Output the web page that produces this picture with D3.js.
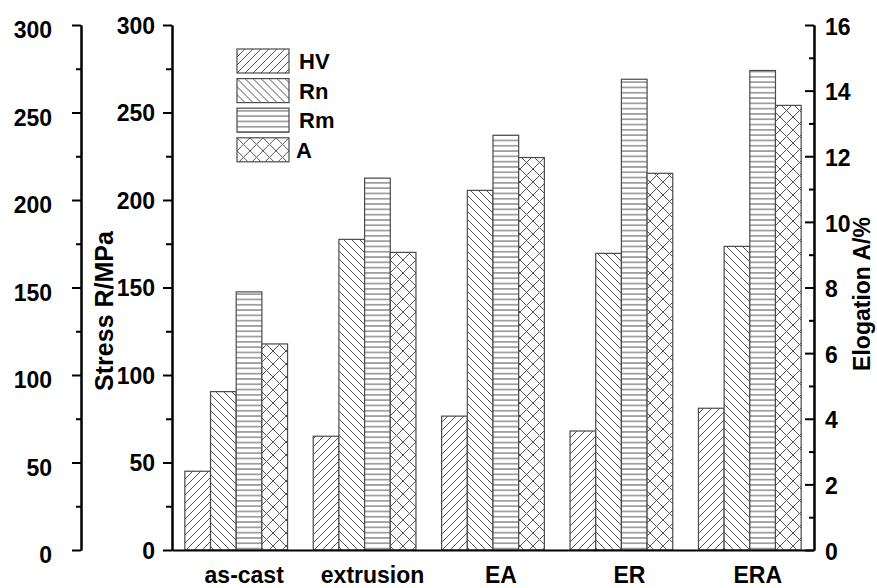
<!DOCTYPE html>
<html>
<head>
<meta charset="utf-8">
<script src="https://cdn.jsdelivr.net/npm/d3@7"></script>
<style>
  body { margin: 0; background: #fff; }
  svg text { font-family: "Liberation Sans", Arial, sans-serif; font-weight: bold; fill: #000; }
</style>
</head>
<body>
<svg id="chart" width="877" height="588"></svg>
<script>
// values
var categories = ["as-cast", "extrusion", "EA", "ER", "ERA"];
var series = ["HV", "Rn", "Rm", "A"];
var hv = [45, 65, 76.5, 68, 81];
var rn = [90.5, 177.5, 205.5, 169.5, 173.5];
var rm = [147.5, 212.5, 237, 269, 274];
var elong = [6.28, 9.07, 11.96, 11.48, 13.55];
var stressTicks = [0, 50, 100, 150, 200, 250, 300];
var elongTicks = [0, 2, 4, 6, 8, 10, 12, 14, 16];

var plotLeft = 172, plotRight = 814, plotTop = 25, plotBottom = 550;

var svg = d3.select("#chart");

var x = d3.scaleBand()
  .domain(categories)
  .range([plotLeft, plotRight])
  .paddingInner(0.2)
  .paddingOuter(0.1);

var xSub = d3.scaleBand()
  .domain(series)
  .range([0, x.bandwidth()]);

var yStress = d3.scaleLinear().domain([0, 300]).range([plotBottom, plotTop]);
var yElong = d3.scaleLinear().domain([0, 16]).range([plotBottom, plotTop]);

// hatch patterns
var defs = svg.append("defs");
var hatchColor = "#555";

var addPattern = function(id, w, h, d) {
  var p = defs.append("pattern")
    .attr("id", id)
    .attr("patternUnits", "userSpaceOnUse")
    .attr("width", w)
    .attr("height", h);
  p.append("rect").attr("width", w).attr("height", h).attr("fill", "#fff");
  p.append("path").attr("d", d)
    .attr("stroke", hatchColor)
    .attr("stroke-width", 1)
    .attr("fill", "none");
};

var s = 8;
addPattern("pHV", s, s, "M-1,1 l2,-2 M0," + s + " l" + s + ",-" + s + " M" + (s - 1) + "," + (s + 1) + " l2,-2");
addPattern("pRn", s, s, "M-1," + (s - 1) + " l2,2 M0,0 l" + s + "," + s + " M" + (s - 1) + ",-1 l2,2");
addPattern("pRm", 10, 5.3, "M0,2.65 L10,2.65");
var c = 13;
addPattern("pA", c, c,
  "M-1,1 l2,-2 M0," + c + " l" + c + ",-" + c + " M" + (c - 1) + "," + (c + 1) + " l2,-2 " +
  "M-1," + (c - 1) + " l2,2 M0,0 l" + c + "," + c + " M" + (c - 1) + ",-1 l2,2");

var fills = { HV: "url(#pHV)", Rn: "url(#pRn)", Rm: "url(#pRm)", A: "url(#pA)" };

// rows for the bars
var rows = [];
categories.forEach(function(cat, i) {
  rows.push({ cat: cat, key: "HV", y: yStress(hv[i]) });
  rows.push({ cat: cat, key: "Rn", y: yStress(rn[i]) });
  rows.push({ cat: cat, key: "Rm", y: yStress(rm[i]) });
  rows.push({ cat: cat, key: "A", y: yElong(elong[i]) });
});

svg.append("g")
  .selectAll("rect")
  .data(rows)
  .enter()
  .append("rect")
  .attr("x", function(d) { return x(d.cat) + xSub(d.key); })
  .attr("y", function(d) { return d.y; })
  .attr("width", xSub.bandwidth())
  .attr("height", function(d) { return plotBottom - d.y; })
  .attr("fill", function(d) { return fills[d.key]; })
  .attr("stroke", "#4a4a4a")
  .attr("stroke-width", 1.2);

// axes
var styleAxis = function(g) {
  g.select(".domain").attr("stroke", "#000").attr("stroke-width", 2);
  g.selectAll(".tick line").attr("stroke", "#000").attr("stroke-width", 2);
  g.selectAll(".tick text").attr("font-size", 23).attr("fill", "#000")
    .attr("font-family", "Liberation Sans, Arial, sans-serif").attr("font-weight", "bold");
};

var minorStress = d3.range(25, 300, 50);
var minorElong = d3.range(1, 16, 2);

// far left axis (HV)
var farAxis = svg.append("g").attr("transform", "translate(81,0)");
farAxis.append("g")
  .call(d3.axisLeft(yStress).tickValues(minorStress).tickSize(5).tickFormat("").tickSizeOuter(0))
  .call(styleAxis);
farAxis.append("g")
  .call(d3.axisLeft(yStress).tickValues(stressTicks).tickSize(9).tickPadding(20).tickSizeOuter(0))
  .call(styleAxis);
farAxis.selectAll(".tick text").attr("dy", "0.55em");

// inner stress axis
var innerAxis = svg.append("g").attr("transform", "translate(" + plotLeft + ",0)");
innerAxis.append("g")
  .call(d3.axisLeft(yStress).tickValues(minorStress).tickSize(6).tickFormat("").tickSizeOuter(0))
  .call(styleAxis);
innerAxis.append("g")
  .call(d3.axisLeft(yStress).tickValues(stressTicks).tickSize(9).tickPadding(8).tickSizeOuter(0))
  .call(styleAxis);
innerAxis.selectAll(".tick text").attr("dy", "0.35em");

// right elongation axis, ticks pointing inward
var rightAxis = svg.append("g").attr("transform", "translate(" + plotRight + ",0)");
rightAxis.append("g")
  .call(d3.axisRight(yElong).tickValues(minorElong).tickSize(-5).tickFormat("").tickSizeOuter(0))
  .call(styleAxis);
rightAxis.append("g")
  .call(d3.axisRight(yElong).tickValues(elongTicks).tickSize(-9).tickPadding(11).tickSizeOuter(0))
  .call(styleAxis);
rightAxis.selectAll(".tick text").attr("dy", "0.4em");

// x axis
svg.append("g")
  .attr("transform", "translate(0," + plotBottom + ")")
  .call(d3.axisBottom(x).tickSize(0).tickFormat("").tickSizeOuter(0))
  .call(styleAxis);

svg.append("g")
  .selectAll("text")
  .data(categories)
  .enter()
  .append("text")
  .attr("x", function(d) { return x(d) + x.bandwidth() / 2 + 8; })
  .attr("y", 583)
  .attr("text-anchor", "middle")
  .attr("font-size", 23)
  .text(function(d) { return d; });

// axis titles
svg.append("text")
  .attr("transform", "translate(113,311) rotate(-90)")
  .attr("text-anchor", "middle")
  .attr("font-size", 25)
  .text("Stress R/MPa");

svg.append("text")
  .attr("transform", "translate(870,294) rotate(-90)")
  .attr("text-anchor", "middle")
  .attr("font-size", 23)
  .text("Elogation A/%");

// legend
var legend = svg.append("g")
  .selectAll("g")
  .data(series)
  .enter()
  .append("g")
  .attr("transform", function(d, i) { return "translate(237," + (49 + i * 29.6) + ")"; });

legend.append("rect")
  .attr("width", 52)
  .attr("height", 24)
  .attr("fill", function(d) { return fills[d]; })
  .attr("stroke", "#4a4a4a")
  .attr("stroke-width", 1.2);

legend.append("text")
  .attr("x", function(d) { return d == "A" ? 59 : 62; })
  .attr("y", 20)
  .attr("font-size", 22)
  .text(function(d) { return d; });
</script>
</body>
</html>
